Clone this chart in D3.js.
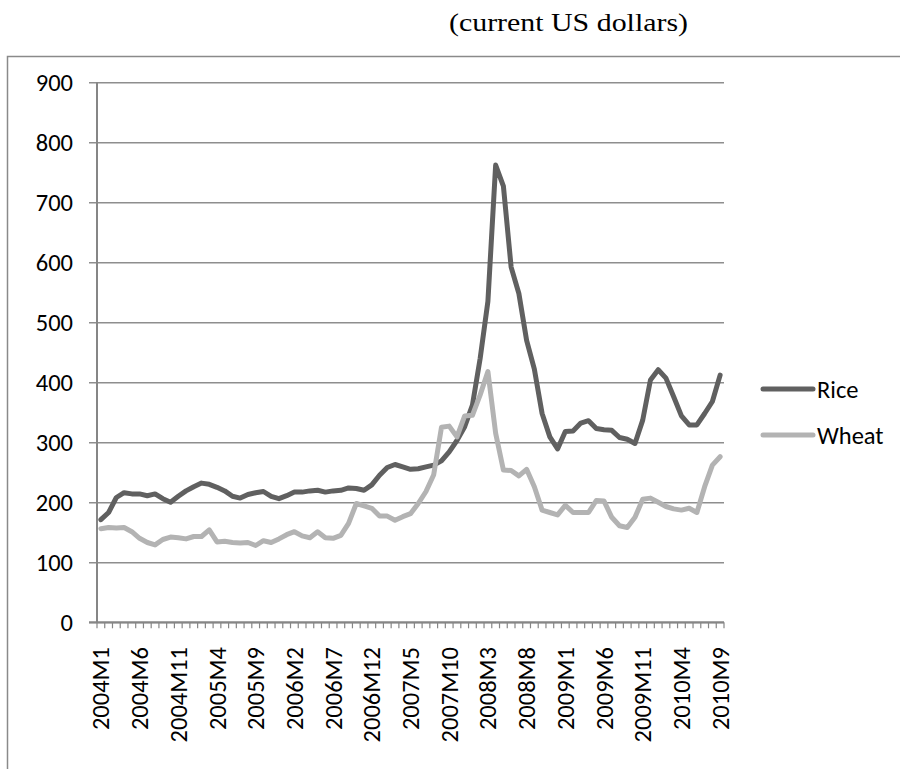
<!DOCTYPE html>
<html><head><meta charset="utf-8">
<script src="https://cdn.jsdelivr.net/npm/d3@7"></script>
<style>
html,body{margin:0;padding:0;background:#fff;}
svg{display:block;}
</style></head>
<body>
<svg id="chart" width="900" height="769"></svg>
<script>
const categories = [
"2004M1","2004M2","2004M3","2004M4","2004M5","2004M6","2004M7","2004M8","2004M9","2004M10","2004M11","2004M12",
"2005M1","2005M2","2005M3","2005M4","2005M5","2005M6","2005M7","2005M8","2005M9","2005M10","2005M11","2005M12",
"2006M1","2006M2","2006M3","2006M4","2006M5","2006M6","2006M7","2006M8","2006M9","2006M10","2006M11","2006M12",
"2007M1","2007M2","2007M3","2007M4","2007M5","2007M6","2007M7","2007M8","2007M9","2007M10","2007M11","2007M12",
"2008M1","2008M2","2008M3","2008M4","2008M5","2008M6","2008M7","2008M8","2008M9","2008M10","2008M11","2008M12",
"2009M1","2009M2","2009M3","2009M4","2009M5","2009M6","2009M7","2009M8","2009M9","2009M10","2009M11","2009M12",
"2010M1","2010M2","2010M3","2010M4","2010M5","2010M6","2010M7","2010M8","2010M9"];

const rice = [171,183,208,216,214,214,211,214,206,200,210,219,
226,232,230,225,219,210,207,213,216,218,210,206,
211,217,217,219,220,217,219,220,224,223,220,229,
245,258,263,259,255,256,259,262,269,284,303,326,
362,440,535,762,727,592,548,470,422,348,309,289,
318,319,332,336,323,321,320,308,305,298,337,404,
421,407,376,344,329,329,348,368,412];

const wheat = [156,158,157,158,151,140,133,129,138,142,141,139,
143,143,154,134,135,133,132,133,128,136,133,139,
146,151,144,141,151,141,140,145,165,198,194,190,
177,177,170,176,181,198,218,246,325,327,309,344,
345,379,418,315,254,253,244,255,226,187,183,179,
195,183,183,183,203,202,175,161,158,175,205,207,
200,193,189,187,190,183,226,262,276];

const tickLabels = ["2004M1","2004M6","2004M11","2005M4","2005M9","2006M2","2006M7","2006M12",
"2007M5","2007M10","2008M3","2008M8","2009M1","2009M6","2009M11","2010M4","2010M9"];
const yTicks = [0,100,200,300,400,500,600,700,800,900];
const seriesNames = ["Rice","Wheat"];
const seriesColors = ["#606060","#b3b3b3"];
const title = "(current US dollars)";

const svg = d3.select("#chart");
const font = "Carlito, Calibri, Lato, sans-serif";
const FS = 24.5;
const L = 97, R = 724, T = 82.3, B = 622.3;

const x = d3.scaleBand().domain(categories).range([L, R]).padding(0);
const xc = c => x(c) + x.bandwidth()/2;
const y = d3.scaleLinear().domain([0, 900]).range([B, T]);

// outer frame
svg.append("rect").attr("x", 7.5).attr("y", 56.5).attr("width", 1000).attr("height", 1000)
  .attr("fill", "none").attr("stroke", "#8a8a8a").attr("stroke-width", 1.5);

// title
svg.append("text").attr("x", 449).attr("y", 31)
  .attr("font-family", "'Liberation Serif','Times New Roman',serif").attr("font-size", 25)
  .attr("textLength", 239).attr("lengthAdjust", "spacingAndGlyphs")
  .attr("fill", "#000").text(title);

// gridlines + y labels
const yAxis = d3.axisLeft(y).tickValues(yTicks).tickSize(-(R - L)).tickSizeOuter(0);
const gy = svg.append("g").attr("transform", `translate(${L},0)`).call(yAxis);
gy.select(".domain").remove();
gy.selectAll(".tick line").attr("x1", -8).attr("stroke", "#8e8e8e").attr("stroke-width", 1.5);
gy.selectAll(".tick text").attr("font-family", font).attr("font-size", FS).attr("fill", "#000").attr("x", -24);

// y axis line
svg.append("line").attr("x1", L).attr("x2", L).attr("y1", y(900)).attr("y2", y(0))
  .attr("stroke", "#868686").attr("stroke-width", 2);

// x axis line + tick marks at category boundaries
svg.append("line").attr("x1", L - 8).attr("x2", R).attr("y1", y(0)).attr("y2", y(0))
  .attr("stroke", "#868686").attr("stroke-width", 2);
const bounds = categories.map(c => x(c)).concat([x(categories[categories.length-1]) + x.bandwidth()]);
svg.append("g").selectAll("line").data(bounds).join("line")
  .attr("x1", d => d).attr("x2", d => d).attr("y1", y(0)).attr("y2", y(0) + 6)
  .attr("stroke", "#868686").attr("stroke-width", 1.2);

// x labels
svg.append("g").selectAll("text").data(tickLabels).join("text")
  .attr("transform", d => `translate(${xc(d)},647) rotate(-90)`)
  .attr("text-anchor", "end").attr("dy", "0.35em")
  .attr("font-family", font).attr("font-size", FS).attr("fill", "#000")
  .text(d => d);

// lines
const line = d3.line().x((d, i) => xc(categories[i])).y(d => y(d));
[rice, wheat].forEach((s, k) => {
  svg.append("path").datum(s).attr("d", line).attr("fill", "none")
    .attr("stroke", seriesColors[k]).attr("stroke-width", 5)
    .attr("stroke-linejoin", "round").attr("stroke-linecap", "round");
});

// legend
const legY = [389, 435];
seriesNames.forEach((n, k) => {
  svg.append("line").attr("x1", 763).attr("x2", 813).attr("y1", legY[k]).attr("y2", legY[k])
    .attr("stroke", seriesColors[k]).attr("stroke-width", 5).attr("stroke-linecap", "round");
  svg.append("text").attr("x", 817).attr("y", legY[k]).attr("dy", "0.35em")
    .attr("font-family", font).attr("font-size", FS).attr("fill", "#000").text(n);
});
</script>
</body></html>
